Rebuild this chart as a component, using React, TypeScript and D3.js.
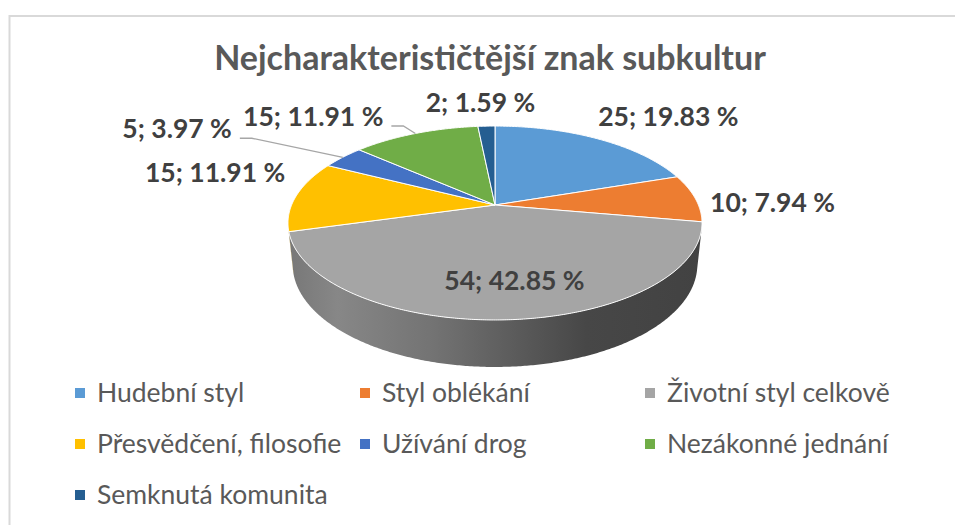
import React from "react";
import * as d3 from "d3";

const title = "Nejcharakterističtější znak subkultur";
const categories = [
  "Hudební styl",
  "Styl oblékání",
  "Životní styl celkově",
  "Přesvědčení, filosofie",
  "Užívání drog",
  "Nezákonné jednání",
  "Semknutá komunita",
];
const counts = [25, 10, 54, 15, 5, 15, 2];
const percents = ["19.83", "7.94", "42.85", "11.91", "3.97", "11.91", "1.59"];
const colors = ["#5B9BD5", "#ED7D31", "#A5A5A5", "#FFC000", "#4472C4", "#70AD47", "#255E91"];

const labelPlace = [
  { anchor: "start", dx: 0, dy: -13, r: 1, leader: false },
  { anchor: "start", dx: 15, dy: 14, r: 1, leader: false },
  { anchor: "middle", dx: 11, dy: 7, r: 0.72, leader: false },
  { anchor: "end", dx: -11, dy: -14, r: 1, leader: false },
  { anchor: "end", dx: -111, dy: -19, r: 1, leader: true },
  { anchor: "end", dx: -32, dy: -7.5, r: 1, leader: true },
  { anchor: "middle", dx: -6, dy: -14, r: 1, leader: false },
];

const W = 955;
const H = 525;
const CX = 495;
const CY = 205;
const F = 972.5;
const DIST = 4.781;
const TILT = (27.4 * Math.PI) / 180;
const THICK = 0.232;
const ca = Math.cos(TILT);
const sa = Math.sin(TILT);

function proj(theta: number, r: number, y: number): [number, number] {
  const x = r * Math.sin(theta);
  const z = r * Math.cos(theta);
  const yv = y * ca + z * sa;
  const d = DIST + z * ca - y * sa;
  return [CX + (F * x) / d, CY - (F * yv) / d];
}

function arcPts(a0: number, a1: number, y: number): [number, number][] {
  const n = Math.max(2, Math.ceil(Math.abs(a1 - a0) / (Math.PI / 360)));
  const out: [number, number][] = [];
  for (let i = 0; i <= n; i++) out.push(proj(a0 + ((a1 - a0) * i) / n, 1, y));
  return out;
}

const FONT = "Lato, 'Open Sans', 'DejaVu Sans', sans-serif";

export default function App() {
  const pie = d3.pie<number>().sort(null).value((d) => d)(counts);
  const vis = Math.acos(-1 / (DIST * ca));
  const v0 = vis;
  const v1 = 2 * Math.PI - vis;
  const line = d3.line();

  const leftX = proj(-Math.PI / 2 - 0.19, 1, 0)[0];
  const rightX = proj(Math.PI / 2 + 0.19, 1, 0)[0];
  const stops = [
    [0, 0.72],
    [0.12, 0.82],
    [0.35, 0.7],
    [0.55, 0.55],
    [0.72, 0.43],
    [1, 0.4],
  ];

  const sides = pie.map((p, i) => {
    const s = Math.max(p.startAngle, v0);
    const e = Math.min(p.endAngle, v1);
    if (e <= s) return null;
    const top = arcPts(s, e, 0);
    const bot = arcPts(e, s, -THICK);
    const d = line([...top, ...bot]) + "Z";
    return <path key={"s" + i} d={d} fill={`url(#side${i})`} />;
  });

  const tops = pie.map((p, i) => {
    const pts = [[CX, CY] as [number, number], ...arcPts(p.startAngle, p.endAngle, 0)];
    return (
      <path
        key={"t" + i}
        d={line(pts) + "Z"}
        fill={colors[i]}
        stroke="#ffffff"
        strokeWidth={1}
        strokeLinejoin="round"
      />
    );
  });

  const labels = pie.map((p, i) => {
    const mid = (p.startAngle + p.endAngle) / 2;
    const lp = labelPlace[i];
    const [ax, ay] = proj(mid, lp.r, 0);
    const tx = ax + lp.dx;
    const ty = ay + lp.dy;
    return (
      <g key={"l" + i}>
        {lp.leader && (
          <polyline
            points={`${tx + 8},${ty} ${tx + 20},${ty} ${ax},${ay}`}
            fill="none"
            stroke="#a6a6a6"
            strokeWidth={1.3}
          />
        )}
        <text
          x={tx}
          y={ty}
          textAnchor={lp.anchor as any}
          fontFamily={FONT}
          fontWeight={700}
          fontSize={26.5}
          fill="#404040"
        >
          {`${counts[i]}; ${percents[i]} %`}
        </text>
      </g>
    );
  });

  const legend = categories.map((c, i) => {
    const row = Math.floor(i / 3);
    const col = i % 3;
    const mx = 75 + col * 285;
    const by = 402 + row * 51;
    return (
      <g key={"g" + i}>
        <rect x={mx} y={by - 14} width={10} height={10} fill={colors[i]} />
        <text x={mx + 22} y={by} fontFamily={FONT} fontSize={26.5} fill="#595959">
          {c}
        </text>
      </g>
    );
  });

  return (
    <svg
      width={W}
      height={H}
      style={{ position: "absolute", left: 0, top: 0, background: "#fff" }}
    >
      <defs>
        {colors.map((c, i) => {
          const base = d3.rgb(c);
          return (
            <linearGradient
              key={i}
              id={`side${i}`}
              gradientUnits="userSpaceOnUse"
              x1={leftX}
              x2={rightX}
              y1={0}
              y2={0}
            >
              {stops.map(([o, f], k) => (
                <stop
                  key={k}
                  offset={o}
                  stopColor={d3.rgb(base.r * f, base.g * f, base.b * f).formatHex()}
                />
              ))}
            </linearGradient>
          );
        })}
      </defs>
      <rect x={0} y={0} width={W} height={H} fill="#fff" />
      <rect x={9.5} y={16} width={1200} height={800} fill="none" stroke="#d9d9d9" strokeWidth={2} />
      <text
        x={490}
        y={70}
        textAnchor="middle"
        fontFamily={FONT}
        fontWeight={700}
        fontSize={34}
        fill="#595959"
      >
        {title}
      </text>
      {sides}
      {tops}
      {labels}
      {legend}
    </svg>
  );
}
